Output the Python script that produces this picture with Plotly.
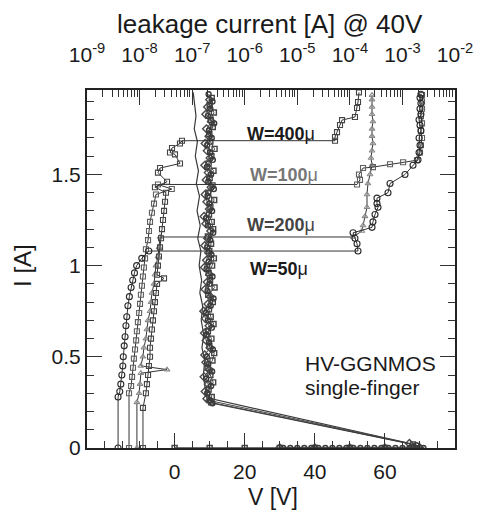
import plotly.graph_objects as go

FONT = "Liberation Sans, Arial, sans-serif"

# ---------------- TLP I-V curves (bottom axis: V [V], left axis: I [A]) ----------------
iv_w50_zero_v = [31, 33, 35, 37, 39, 41, 43, 45, 47, 49, 51, 53, 55, 57, 59, 61, 63, 65, 67, 69, 71]
iv_w50_zero_i = [0, 0, 0, 0, 0, 0, 0, 0, 0, 0, 0, 0, 0, 0, 0, 0, 0, 0, 0, 0, 0]
iv_w50_snap_v = [69, 10.8]
iv_w50_snap_i = [0.015, 0.245]
iv_w50_hold_v = [10.1, 9.3, 10.4, 9.0, 10.7, 9.6, 9.2, 10.9, 9.8, 9.1, 10.6, 9.5, 8.9, 10.3, 11.1,
                 9.4, 10.0, 10.8, 9.1, 9.7, 10.5, 9.3, 10.2, 11.0, 9.5, 9.0, 10.7, 9.9, 9.4, 11.2,
                 9.6, 10.4, 9.2, 10.9, 10.1, 9.3, 10.6, 9.8, 11.3, 9.5, 10.2, 10.8, 9.7]
iv_w50_hold_i = [0.26, 0.30, 0.34, 0.38, 0.42, 0.46, 0.50, 0.54, 0.58, 0.62, 0.66, 0.70, 0.74, 0.78,
                 0.82, 0.86, 0.90, 0.94, 0.98, 1.02, 1.06, 1.10, 1.14, 1.18, 1.22, 1.26, 1.30, 1.34,
                 1.38, 1.42, 1.46, 1.50, 1.54, 1.58, 1.62, 1.66, 1.70, 1.74, 1.78, 1.82, 1.86, 1.90, 1.94]

iv_w100_zero_v = [0, 10, 20, 30, 40, 50, 60, 68]
iv_w100_zero_i = [0, 0, 0, 0, 0, 0, 0, 0]
iv_w100_snap_v = [68, 10.4]
iv_w100_snap_i = [0.02, 0.25]
iv_w100_hold_v = [10.6, 9.7, 11.0, 10.2, 9.4, 10.8, 11.3, 9.9, 10.5, 9.5, 11.1, 10.3, 9.8, 10.9,
                  9.6, 11.4, 10.1, 9.7, 10.7, 11.2, 9.9, 10.4, 9.5, 11.0, 10.6, 9.8, 10.2, 11.3,
                  9.6, 10.8, 10.0, 11.1, 9.7, 10.5, 11.4, 10.2, 9.9, 10.9, 10.3, 11.2, 10.0, 10.6]
iv_w100_hold_i = [0.28, 0.32, 0.36, 0.40, 0.44, 0.48, 0.52, 0.56, 0.60, 0.64, 0.68, 0.72, 0.76, 0.80,
                  0.84, 0.88, 0.92, 0.96, 1.00, 1.04, 1.08, 1.12, 1.16, 1.20, 1.24, 1.28, 1.32, 1.36,
                  1.40, 1.44, 1.48, 1.52, 1.56, 1.60, 1.64, 1.68, 1.72, 1.76, 1.80, 1.84, 1.88, 1.92]

iv_w200_zero_v = [30, 40, 50, 60, 70]
iv_w200_zero_i = [0, 0, 0, 0, 0]
iv_w200_snap_v = [67, 10.0]
iv_w200_snap_i = [0.025, 0.26]
iv_w200_hold_v = [9.2, 8.7, 9.6, 8.4, 9.9, 8.9, 8.6, 10.1, 9.0, 8.5, 9.8, 8.8, 8.3, 9.5, 10.2,
                  8.7, 9.3, 10.0, 8.5, 9.1, 9.7, 8.6, 9.4, 10.3, 8.9, 8.4, 9.9, 9.2, 8.7, 10.4,
                  9.0, 9.6, 8.6, 10.1, 9.3, 8.7, 9.8, 9.1, 10.5, 8.9, 9.4, 10.0]
iv_w200_hold_i = [0.27, 0.31, 0.35, 0.39, 0.43, 0.47, 0.51, 0.55, 0.59, 0.63, 0.67, 0.71, 0.75, 0.79,
                  0.83, 0.87, 0.91, 0.95, 0.99, 1.03, 1.07, 1.11, 1.15, 1.19, 1.23, 1.27, 1.31, 1.35,
                  1.39, 1.43, 1.47, 1.51, 1.55, 1.59, 1.63, 1.67, 1.71, 1.75, 1.79, 1.83, 1.87, 1.91]

iv_w400_zero_v = [0, 70]
iv_w400_zero_i = [0, 0]
iv_w400_snap_v = [66, 9.5]
iv_w400_snap_i = [0.03, 0.27]
iv_w400_hold_v = [9.3, 8.7, 8.2, 8.6, 7.8, 8.3, 7.6, 8.0, 7.2, 7.7, 7.0, 7.5, 6.6, 7.3, 6.4, 7.1,
                  6.2, 6.8, 5.9, 6.5, 5.6, 6.1, 5.5, 5.3]
iv_w400_hold_i = [0.275, 0.33, 0.40, 0.48, 0.55, 0.62, 0.70, 0.78, 0.85, 0.92, 1.00, 1.08, 1.15,
                  1.22, 1.30, 1.38, 1.45, 1.52, 1.60, 1.68, 1.75, 1.82, 1.90, 1.95]

# ---------------- leakage current @ 40 V (top axis, A) vs TLP current ----------------
lk_w50_i = [0, 0.28, 0.31, 0.35, 0.40, 0.45, 0.50, 0.56, 0.61, 0.67, 0.72, 0.78, 0.83, 0.88, 0.92,
            0.96, 1.00, 1.04, 1.08,
            1.08, 1.12, 1.15, 1.18, 1.21, 1.24, 1.28, 1.32, 1.34, 1.37, 1.40, 1.45, 1.50, 1.55,
            1.58, 1.62, 1.66, 1.70, 1.74, 1.77, 1.80, 1.83, 1.86, 1.89, 1.92, 1.94]
lk_w50_a = [3.9e-9, 3.9e-9, 4.2e-9, 4.4e-9, 4.6e-9, 4.8e-9, 4.9e-9, 5.1e-9, 5.3e-9, 5.5e-9, 5.7e-9,
            6.0e-9, 6.4e-9, 6.9e-9, 7.4e-9, 8.0e-9, 8.8e-9, 1.1e-8, 1.5e-8,
            1.43e-4, 1.37e-4, 1.25e-4, 1.15e-4, 2.64e-4, 2.75e-4, 3.01e-4, 3.43e-4, 3.28e-4,
            3.28e-4, 5.32e-4, 5.81e-4, 1.12e-3, 1.59e-3, 1.98e-3, 2.07e-3, 2.16e-3, 2.07e-3,
            2.25e-3, 2.16e-3, 2.07e-3, 2.25e-3, 2.16e-3, 2.25e-3, 2.16e-3, 2.25e-3]

lk_w100_i = [0, 0.30, 0.34, 0.39, 0.44, 0.49, 0.54, 0.59, 0.64, 0.69, 0.74, 0.79, 0.84, 0.89, 0.94,
             0.99, 1.04, 1.09, 1.14, 1.19, 1.24, 1.29, 1.34, 1.39, 1.42, 1.445,
             1.445, 1.47, 1.50, 1.535, 1.54, 1.556, 1.567, 1.578, 1.62, 1.66, 1.70, 1.74, 1.78,
             1.82, 1.86, 1.90, 1.935]
lk_w100_a = [6.3e-9, 6.3e-9, 6.9e-9, 7.2e-9, 7.5e-9, 7.8e-9, 8.2e-9, 8.6e-9, 8.9e-9, 9.3e-9, 9.8e-9,
             1.02e-8, 1.06e-8, 1.11e-8, 1.16e-8, 1.21e-8, 1.27e-8, 1.32e-8, 1.45e-8, 1.51e-8,
             1.58e-8, 1.72e-8, 1.88e-8, 2.05e-8, 4.1e-8, 2.24e-8,
             1.37e-4, 1.56e-4, 1.49e-4, 1.78e-4, 2.75e-4, 5.81e-4, 1.03e-3, 1.89e-3, 2.16e-3,
             2.25e-3, 2.36e-3, 2.25e-3, 2.36e-3, 2.25e-3, 2.36e-3, 2.36e-3, 2.36e-3]

lk_w200_i = [0, 0.25, 0.30, 0.35, 0.41, 0.43, 0.45, 0.50, 0.55, 0.60, 0.65, 0.70, 0.75, 0.80, 0.85,
             0.90, 0.95, 1.00, 1.05, 1.10, 1.157,
             1.157, 1.19, 1.22, 1.27, 1.32, 1.39, 1.45, 1.50, 1.55, 1.59, 1.63, 1.67, 1.71, 1.75,
             1.79, 1.83, 1.87, 1.91, 1.935]
lk_w200_a = [8.9e-9, 8.9e-9, 9.8e-9, 1.02e-8, 1.06e-8, 3.33e-8, 1.06e-8, 1.16e-8, 1.21e-8, 1.32e-8,
             1.38e-8, 1.45e-8, 1.58e-8, 1.65e-8, 1.72e-8, 1.88e-8, 1.96e-8, 2.05e-8, 2.24e-8,
             2.34e-8, 2.45e-8,
             1.15e-4, 1.70e-4, 1.78e-4, 1.94e-4, 2.12e-4, 2.12e-4, 2.21e-4, 2.42e-4, 2.64e-4,
             2.52e-4, 2.64e-4, 2.75e-4, 2.64e-4, 2.64e-4, 2.75e-4, 2.64e-4, 2.64e-4, 2.64e-4, 2.64e-4]

lk_w400_i = [0, 0.22, 0.30, 0.35, 0.40, 0.45, 0.50, 0.55, 0.60, 0.65, 0.70, 0.75, 0.80, 0.85, 0.90,
             0.93, 0.95, 1.00, 1.05, 1.10, 1.15, 1.20, 1.25, 1.30, 1.35, 1.40, 1.43, 1.46, 1.51,
             1.535, 1.56, 1.61, 1.62, 1.645, 1.67, 1.685,
             1.685, 1.705, 1.732, 1.771, 1.798, 1.815, 1.864, 1.897, 1.95]
lk_w400_a = [1.16e-8, 1.16e-8, 1.32e-8, 1.38e-8, 1.45e-8, 1.51e-8, 1.58e-8, 1.58e-8, 1.65e-8,
             1.72e-8, 1.80e-8, 1.88e-8, 1.96e-8, 2.05e-8, 2.15e-8, 2.92e-8, 2.15e-8, 2.24e-8,
             2.34e-8, 2.45e-8, 2.56e-8, 2.67e-8, 2.79e-8, 2.92e-8, 3.05e-8, 3.18e-8, 1.96e-8,
             3.33e-8, 2.24e-8, 2.45e-8, 5.87e-8, 4.72e-8, 3.79e-8, 4.14e-8, 5.87e-8, 6.41e-8,
             5.22e-5, 5.22e-5, 5.70e-5, 6.50e-5, 7.10e-5, 1.25e-4, 1.37e-4, 1.43e-4, 1.49e-4]

# ---------------- axis ticks / labels ----------------
v_ticks = [0, 20, 40, 60]
i_ticks = [0, 0.5, 1, 1.5]
i_ticktext = ["0", "0.5", "1", "1.5"]
leak_decades = [1e-9, 1e-8, 1e-7, 1e-6, 1e-5, 1e-4, 1e-3, 1e-2]
leak_ticktext = ["10<sup>-9</sup>", "10<sup>-8</sup>", "10<sup>-7</sup>", "10<sup>-6</sup>",
                 "10<sup>-5</sup>", "10<sup>-4</sup>", "10<sup>-3</sup>", "10<sup>-2</sup>"]
width_labels = ["W=400", "W=100", "W=200", "W=50"]

fig = go.Figure()

def iv_trace(v, i, symbol, color, size=5, mode="lines+markers", lw=1):
    fig.add_trace(go.Scatter(
        x=v, y=i, mode=mode, xaxis="x", yaxis="y",
        line=dict(color=color, width=lw),
        marker=dict(symbol=symbol, size=size, color=color, line=dict(width=1.4, color=color)),
        showlegend=False, hoverinfo="skip"))

def lk_trace(a, i, symbol, color, size=5, lw=1):
    fig.add_trace(go.Scatter(
        x=a, y=i, mode="lines+markers", xaxis="x2", yaxis="y",
        line=dict(color="#333", width=lw),
        marker=dict(symbol=symbol, size=size, color=color, line=dict(width=1.1, color=color)),
        showlegend=False, hoverinfo="skip"))

iv_trace(iv_w400_zero_v + iv_w400_snap_v + iv_w400_hold_v,
         iv_w400_zero_i + iv_w400_snap_i + iv_w400_hold_i, "square-open", "#3a3a3a", mode="lines", lw=1.2)
iv_trace(iv_w200_zero_v + iv_w200_snap_v + iv_w200_hold_v,
         iv_w200_zero_i + iv_w200_snap_i + iv_w200_hold_i, "diamond-open", "#4a4a4a", size=6)
iv_trace(iv_w100_zero_v + iv_w100_snap_v + iv_w100_hold_v,
         iv_w100_zero_i + iv_w100_snap_i + iv_w100_hold_i, "square-open", "#444")
iv_trace(iv_w50_zero_v + iv_w50_snap_v + iv_w50_hold_v,
         iv_w50_zero_i + iv_w50_snap_i + iv_w50_hold_i, "circle-open", "#3a3a3a")

lk_trace(lk_w200_a, lk_w200_i, "triangle-up-open", "#8a8a8a", size=5)
lk_trace(lk_w100_a, lk_w100_i, "square-open", "#606060", size=5)
lk_trace(lk_w400_a, lk_w400_i, "square-open", "#444", size=5)
lk_trace(lk_w50_a, lk_w50_i, "circle-open", "#2a2a2a", size=6)

minor_leak = []
for d in leak_decades[:-1]:
    for m in range(2, 10):
        minor_leak.append(d * m)

axis_font = dict(family=FONT, size=21, color="#1a1a1a")
fig.update_layout(
    width=477, height=514,
    margin=dict(l=87, r=22, t=90, b=66, autoexpand=False),
    paper_bgcolor="white", plot_bgcolor="white",
    font=dict(family=FONT, color="#1a1a1a"),
    xaxis=dict(range=[-25, 80], tickmode="array", tickvals=v_ticks, ticks="inside", ticklen=15,
               tickwidth=1, tickcolor="#333", showline=True, linewidth=2, linecolor="#222",
               showgrid=False, zeroline=False, tickfont=axis_font, automargin=False,
               ticklabelstandoff=4,
               minor=dict(dtick=5, tick0=0, ticks="inside", ticklen=7, tickcolor="#333", showgrid=False)),
    xaxis2=dict(type="log", range=[-9, -2], overlaying="x", side="top", anchor="y",
                tickmode="array", tickvals=leak_decades, ticktext=leak_ticktext,
                ticks="inside", ticklen=15, tickwidth=1, tickcolor="#333",
                showline=True, linewidth=2, linecolor="#222", showgrid=False, zeroline=False,
                tickfont=axis_font, automargin=False, ticklabelstandoff=18,
                minor=dict(tickvals=minor_leak, ticks="inside", ticklen=7, tickcolor="#333", showgrid=False)),
    yaxis=dict(range=[0, 1.963], tickmode="array", tickvals=i_ticks, ticktext=i_ticktext,
               ticks="inside", ticklen=15, tickwidth=1, tickcolor="#333", mirror="ticks",
               showline=True, linewidth=2, linecolor="#222", showgrid=False, zeroline=False,
               tickfont=axis_font, automargin=False,
               minor=dict(dtick=0.1, tick0=0, ticks="inside", ticklen=7, tickcolor="#333", showgrid=False)),
)

ann = []
ann.append(dict(text="leakage current [A] @ 40V", xref="paper", yref="paper", x=0.497, y=1.185,
                xanchor="center", yanchor="middle", showarrow=False,
                font=dict(family=FONT, size=26, color="#1a1a1a")))
ann.append(dict(text="I [A]", xref="paper", yref="paper", x=-0.177, y=0.511, textangle=-90,
                xanchor="center", yanchor="middle", showarrow=False,
                font=dict(family=FONT, size=24, color="#1a1a1a")))
ann.append(dict(text="V [V]", xref="paper", yref="paper", x=0.505, y=-0.137,
                xanchor="center", yanchor="middle", showarrow=False,
                font=dict(family=FONT, size=23, color="#1a1a1a")))
label_pos = [(20, 1.72, "#1a1a1a"), (20.9, 1.497, "#777"), (20, 1.223, "#444"), (20.9, 0.979, "#1a1a1a")]
for txt, (lx, ly, col) in zip(width_labels, label_pos):
    ann.append(dict(text="<b>" + txt + "</b>μ", xref="x", yref="y", x=lx, y=ly,
                    xanchor="left", yanchor="middle", showarrow=False,
                    font=dict(family=FONT, size=18, color=col)))
ann.append(dict(text="HV-GGNMOS", xref="x", yref="y", x=36.6, y=0.466, xanchor="left",
                yanchor="middle", showarrow=False, font=dict(family=FONT, size=21, color="#1a1a1a")))
ann.append(dict(text="single-finger", xref="x", yref="y", x=36.6, y=0.334, xanchor="left",
                yanchor="middle", showarrow=False, font=dict(family=FONT, size=21, color="#1a1a1a")))
fig.update_layout(annotations=ann)

fig.write_html("out.html", config={"displayModeBar": False},
               post_script="document.body.style.margin='0';document.body.style.padding='0';")
